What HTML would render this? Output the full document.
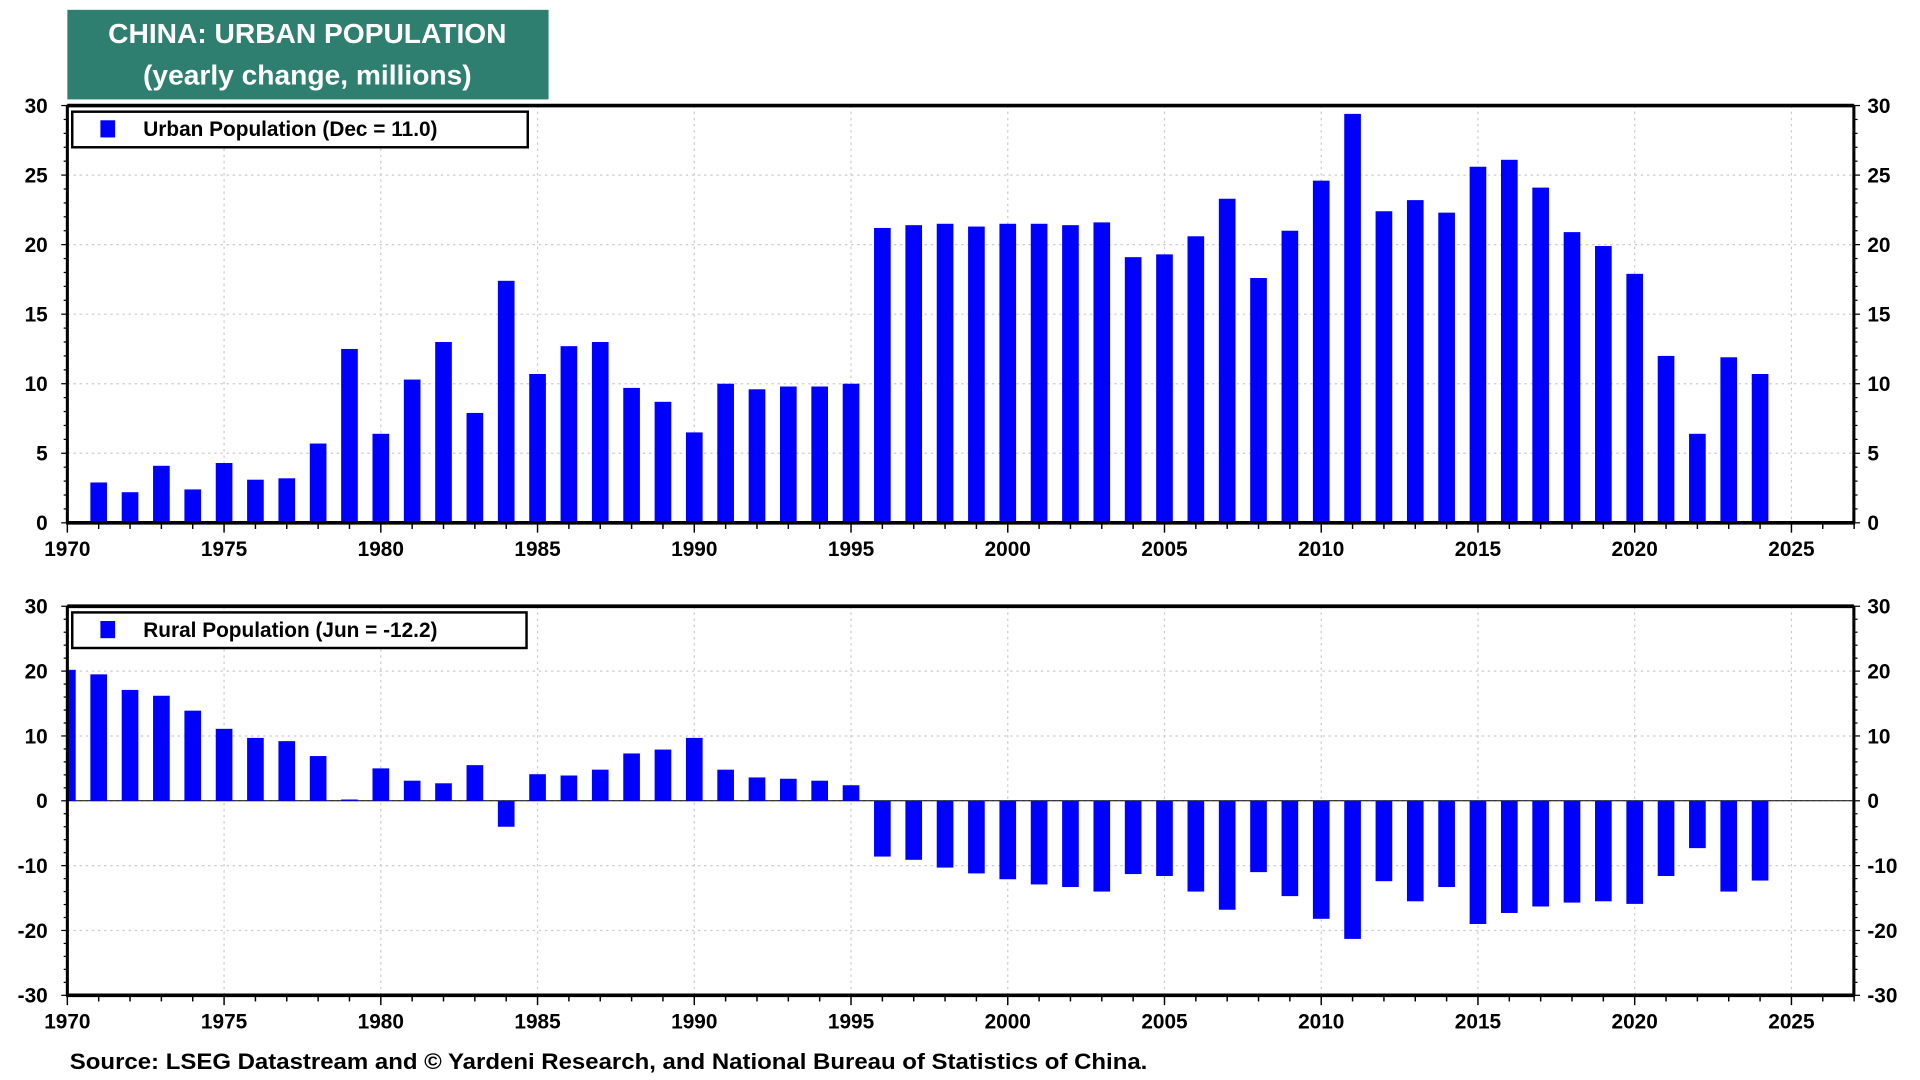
<!DOCTYPE html>
<html><head><meta charset="utf-8"><style>
html,body{margin:0;padding:0;background:#fff;}
svg{display:block;font-family:"Liberation Sans",Arial,sans-serif;font-weight:bold;}
</style></head><body>
<svg id="chart" width="1920" height="1080" viewBox="0 0 1568 880" preserveAspectRatio="none" xmlns="http://www.w3.org/2000/svg">
<defs><clipPath id="cb"><rect x="55" y="494" width="1459" height="317"/></clipPath></defs>
<rect x="55" y="8" width="393" height="73" fill="#2e7f6f"/>
<text x="251" y="35" fill="#fff" font-size="23" text-anchor="middle">CHINA: URBAN POPULATION</text>
<text x="251" y="69" fill="#fff" font-size="23" text-anchor="middle">(yearly change, millions)</text>
<g id="top"></g>
<g id="bot"></g>
<text x="57" y="871" font-size="18" textLength="880" lengthAdjust="spacingAndGlyphs">Source: LSEG Datastream and © Yardeni Research, and National Bureau of Statistics of China.</text>
</svg>
<script>
const urbanYears=[1971,1972,1973,1974,1975,1976,1977,1978,1979,1980,1981,1982,1983,1984,1985,1986,1987,1988,1989,1990,1991,1992,1993,1994,1995,1996,1997,1998,1999,2000,2001,2002,2003,2004,2005,2006,2007,2008,2009,2010,2011,2012,2013,2014,2015,2016,2017,2018,2019,2020,2021,2022,2023,2024];
const urbanValues=[2.9,2.2,4.1,2.4,4.3,3.1,3.2,5.7,12.5,6.4,10.3,13.0,7.9,17.4,10.7,12.7,13.0,9.7,8.7,6.5,10.0,9.6,9.8,9.8,10.0,21.2,21.4,21.5,21.3,21.5,21.5,21.4,21.6,19.1,19.3,20.6,23.3,17.6,21.0,24.6,29.4,22.4,23.2,22.3,25.6,26.1,24.1,20.9,19.9,17.9,12.0,6.4,11.9,10.7];
const ruralYears=[1970,1971,1972,1973,1974,1975,1976,1977,1978,1979,1980,1981,1982,1983,1984,1985,1986,1987,1988,1989,1990,1991,1992,1993,1994,1995,1996,1997,1998,1999,2000,2001,2002,2003,2004,2005,2006,2007,2008,2009,2010,2011,2012,2013,2014,2015,2016,2017,2018,2019,2020,2021,2022,2023,2024];
const ruralValues=[20.2,19.5,17.1,16.2,13.9,11.1,9.7,9.2,6.9,0.2,5.0,3.1,2.7,5.5,-4.0,4.1,3.9,4.8,7.3,7.9,9.7,4.8,3.6,3.4,3.1,2.4,-8.6,-9.1,-10.3,-11.2,-12.1,-12.9,-13.3,-14.0,-11.3,-11.6,-14.0,-16.8,-11.0,-14.7,-18.2,-21.3,-12.4,-15.5,-13.3,-19.0,-17.3,-16.3,-15.7,-15.5,-15.9,-11.6,-7.3,-14.0,-12.3];
const xTickLabels=[1970,1975,1980,1985,1990,1995,2000,2005,2010,2015,2020,2025];
const urbanTicks=[0,5,10,15,20,25,30];
const ruralTicks=[-30,-20,-10,0,10,20,30];
const NS="http://www.w3.org/2000/svg";
const L=55,R=1514,X0=1970,PX=25.6;
function xs(y){return L+(y-X0)*PX;}
function mk(p,t,a){const e=document.createElementNS(NS,t);for(const k in a)e.setAttribute(k,a[k]);p.appendChild(e);return e;}
function panel(g,top,bot,min,max,ticks,minorStep,years,vals,legend,legW,clip){
  const ys=v=>bot-(v-min)/(max-min)*(bot-top);
  xTickLabels.forEach(t=>{if(t>X0){const l=mk(g,'line',{x1:xs(t),x2:xs(t),y1:top,y2:bot,stroke:'#ccc','stroke-dasharray':'2,3'});}});
  ticks.forEach(t=>{if(t>min&&t<max){const l=mk(g,'line',{x1:L,x2:R,y1:ys(t),y2:ys(t),stroke:'#ccc','stroke-dasharray':'2,3'});}});
  if(min<0){const z=mk(g,'line',{x1:L,x2:R,y1:ys(0),y2:ys(0),stroke:'#000','stroke-width':0.8});}
  const bars=mk(g,'g',clip?{'clip-path':'url(#'+clip+')'}:{});
  
  
  years.forEach((y,i)=>{const v=vals[i];const y0=ys(0),y1=ys(v);
    const r=mk(bars,'rect',{x:xs(y)-6.8,width:13.6,y:Math.min(y0,y1),height:Math.abs(y1-y0),fill:'#0000ff'});
    
    });
  const f=mk(g,'rect',{x:L,y:top,width:R-L,height:bot-top,fill:'none',stroke:'#000','stroke-width':1.5});
  
  
  mk(g,'line',{x1:L,x2:R,y1:top,y2:top,stroke:'#000','stroke-width':3});
  mk(g,'line',{x1:L-1,x2:R+1,y1:bot,y2:bot,stroke:'#000','stroke-width':3});
  mk(g,'line',{x1:L,x2:L,y1:top,y2:bot,stroke:'#000','stroke-width':2.5});
  mk(g,'line',{x1:R,x2:R,y1:top,y2:bot,stroke:'#000','stroke-width':2.5});
  for(let y=X0;y<=2027;y++){const maj=(y%5===0);mk(g,'line',{x1:xs(y),x2:xs(y),y1:bot,y2:bot+(maj?8:5),stroke:'#000','stroke-width':1.2});}
  xTickLabels.forEach(t=>{const tx=mk(g,'text',{x:xs(t),y:bot+27,'font-size':17,'text-anchor':'middle'});tx.textContent=t;});
  for(let v=min;v<=max+1e-9;v+=minorStep){const maj=ticks.includes(Math.round(v));
    mk(g,'line',{x1:L-(maj?5:3),x2:L,y1:ys(v),y2:ys(v),stroke:'#000','stroke-width':1});
    mk(g,'line',{x1:R,x2:R+(maj?5:3),y1:ys(v),y2:ys(v),stroke:'#000','stroke-width':1});}
  ticks.forEach(t=>{
    const a=mk(g,'text',{x:L-16,y:ys(t)+6,'font-size':17,'text-anchor':'end'});a.textContent=t;
    const b=mk(g,'text',{x:R+11,y:ys(t)+6,'font-size':17,'text-anchor':'start'});b.textContent=t;});
  const lg=mk(g,'g',{});
  
  
  mk(lg,'rect',{x:59,y:top+5,width:legW,height:29,fill:'#fff',stroke:'#000','stroke-width':2});
  mk(lg,'rect',{x:82,y:top+12,width:12,height:14,fill:'#0000ff'});
  const lt=mk(lg,'text',{x:117,y:top+25,'font-size':17});lt.textContent=legend;
}
panel(document.getElementById('top'),86,426,0,30,urbanTicks,1,urbanYears,urbanValues,'Urban Population (Dec = 11.0)',372,null);
panel(document.getElementById('bot'),494,811,-30,30,ruralTicks,2,ruralYears,ruralValues,'Rural Population (Jun = -12.2)',371,'cb');
</script>
</body></html>
